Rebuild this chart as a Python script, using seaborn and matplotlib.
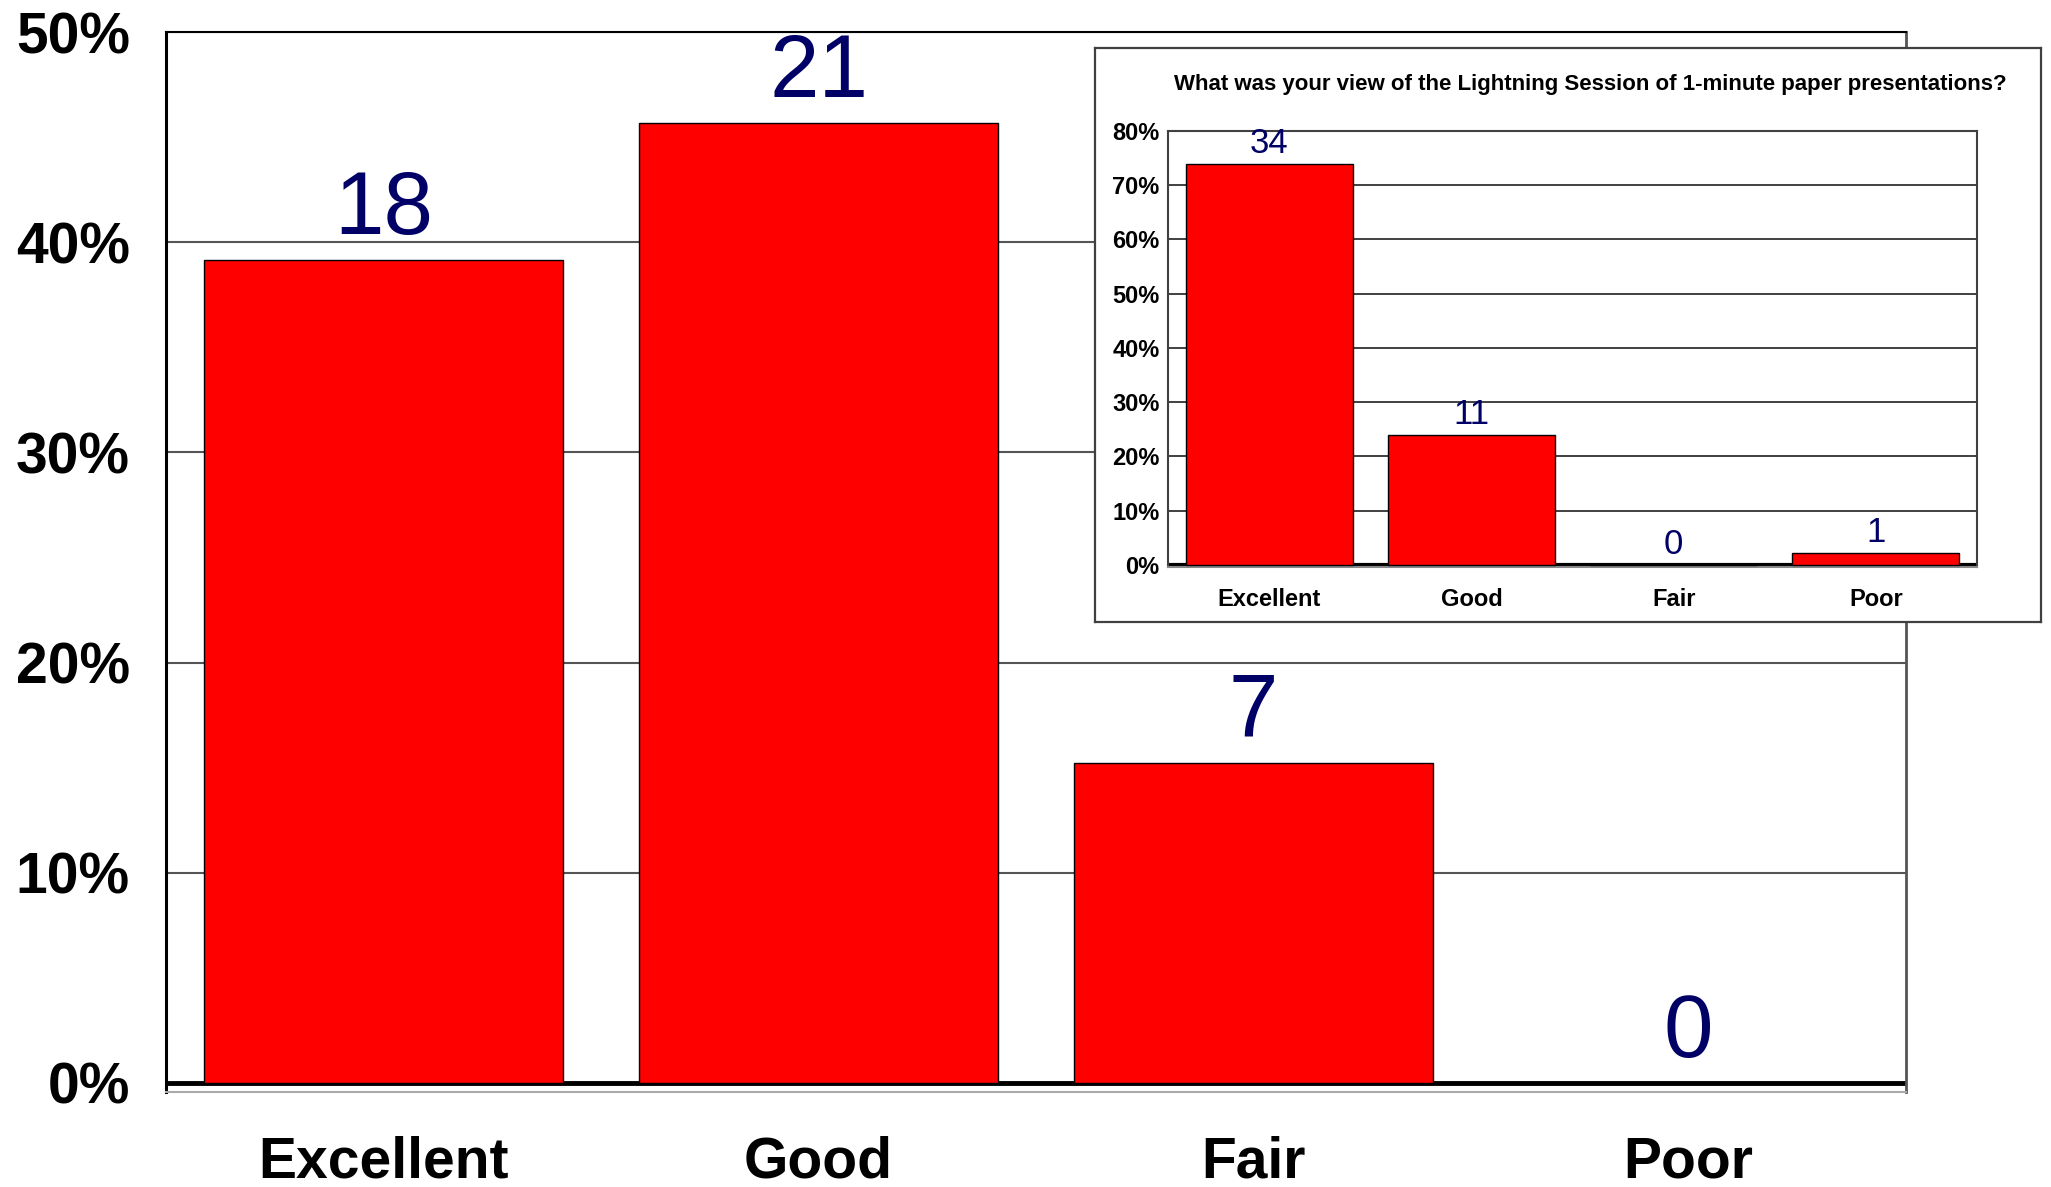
import matplotlib
matplotlib.use('Agg')
import matplotlib.pyplot as plt
import seaborn as sns
import pandas as pd

# ---------------- data ----------------
categories = ['Excellent', 'Good', 'Fair', 'Poor']
main_counts = [18, 21, 7, 0]
inset_counts = [34, 11, 0, 1]
main_ticks = [0.0, 0.1, 0.2, 0.3, 0.4, 0.5]
main_tick_labels = ['0%', '10%', '20%', '30%', '40%', '50%']
inset_ticks = [0.0, 0.1, 0.2, 0.3, 0.4, 0.5, 0.6, 0.7, 0.8]
inset_tick_labels = ['0%', '10%', '20%', '30%', '40%', '50%', '60%', '70%', '80%']
inset_title = 'What was your view of the Lightning Session of 1-minute paper presentations?'

sns.set_theme(style='white')
plt.rcParams['font.family'] = ['Liberation Sans', 'DejaVu Sans']

W, H = 2051, 1187
fig = plt.figure(figsize=(W / 100, H / 100), dpi=100)
fig.patch.set_facecolor('white')

BAR = '#ff0000'
NAVY = '#000066'


def px_axes(left, top, right, bottom):
    return [left / W, 1 - bottom / H, (right - left) / W, (bottom - top) / H]


def draw_bars(ax, counts, ticks, tick_labels, ytop, ybot, tick_fs, lab_fs,
              lab_off, ypad, xpad, grid_col, grid_lw, base_lw):
    total = sum(counts)
    df = pd.DataFrame({'category': categories,
                       'share': [c / total for c in counts]})
    sns.barplot(data=df, x='category', y='share', color=BAR, saturation=1,
                edgecolor='black', linewidth=1, width=0.825, ax=ax, zorder=3)
    ax.set_xlim(-0.5, len(categories) - 0.5)
    ax.set_ylim(ybot, ytop)
    ax.set_yticks(ticks)
    ax.set_yticklabels(tick_labels, fontsize=tick_fs, fontweight='bold', color='black')
    ax.set_xticks(range(len(categories)))
    ax.set_xticklabels(categories, fontsize=tick_fs, fontweight='bold', color='black')
    ax.tick_params(axis='y', length=0, pad=ypad)
    ax.tick_params(axis='x', length=0, pad=xpad)
    ax.set_xlabel('')
    ax.set_ylabel('')
    ax.yaxis.grid(True, color=grid_col, lw=grid_lw, zorder=1)
    ax.set_axisbelow(True)
    ax.axhline(0, color='black', lw=base_lw, zorder=2.5)
    for i, (c, v) in enumerate(zip(counts, df['share'])):
        ax.annotate(str(c), (i, v), xytext=(0, lab_off), textcoords='offset points',
                    ha='center', va='baseline', fontsize=lab_fs, color=NAVY, zorder=5)
    return ax


# ---------------- main chart ----------------
ax = fig.add_axes(px_axes(166, 32, 1906, 1092))
draw_bars(ax, main_counts, main_ticks, main_tick_labels, 0.5, -0.0043,
          tick_fs=41, lab_fs=64, lab_off=19, ypad=26, xpad=31,
          grid_col='#555555', grid_lw=1.5, base_lw=3.5)
ax.spines['left'].set_color('black'); ax.spines['left'].set_linewidth(2.2)
ax.spines['top'].set_color('black'); ax.spines['top'].set_linewidth(1.5)
ax.spines['right'].set_color('#555555'); ax.spines['right'].set_linewidth(2)
ax.spines['bottom'].set_color('#aaaaaa'); ax.spines['bottom'].set_linewidth(1.5)

# ---------------- inset frame ----------------
frame = fig.add_axes(px_axes(1095, 48, 2041, 622))
frame.set_facecolor('white')
frame.set_xticks([]); frame.set_yticks([])
for s in frame.spines.values():
    s.set_color('#404040'); s.set_linewidth(1.6)
frame.text((1174 - 1095) / 946, 1 - (90 - 48) / 574, inset_title,
           transform=frame.transAxes, ha='left', va='baseline',
           fontsize=16.0, fontweight='bold', color='black')

# ---------------- inset chart ----------------
iax = fig.add_axes(px_axes(1168, 131, 1977, 567))
draw_bars(iax, inset_counts, inset_ticks, inset_tick_labels, 0.8, -0.0037,
          tick_fs=17, lab_fs=25, lab_off=8, ypad=6, xpad=15,
          grid_col='#404040', grid_lw=1.4, base_lw=3)
iax.set_facecolor('white')
for side in ['left', 'top', 'right']:
    iax.spines[side].set_color('#404040'); iax.spines[side].set_linewidth(1.5)
iax.spines['bottom'].set_color('#888888'); iax.spines['bottom'].set_linewidth(1.5)

fig.savefig('out.png', dpi=100, facecolor='white')
